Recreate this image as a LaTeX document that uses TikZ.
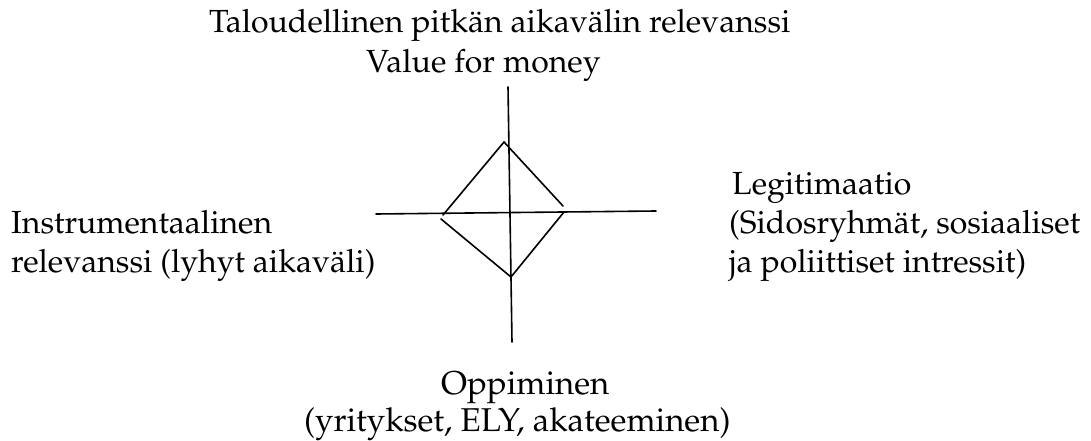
\documentclass[tikz,border=0pt]{standalone}
\usepackage[T1]{fontenc}
\usepackage{mathpazo}
\begin{document}
\begin{tikzpicture}[x=1pt,y=-1pt,
  axis/.style={line width=1.6pt, line cap=round},
  lbl/.style={inner sep=0pt, anchor=base west, font=\fontsize{32}{39}\selectfont},
  lblb/.style={lbl, font=\fontsize{33}{39}\selectfont}]
\useasboundingbox (0,0) rectangle (1091,441);
% axes
\coordinate (vt) at (508,87);
\coordinate (vb) at (512,342);
\coordinate (hl) at (376,214);
\coordinate (hr) at (656,211);
\draw[axis] (vt) -- (vb);
\draw[axis] (hl) -- (hr);
% diamond
\coordinate (dt) at (504,142);
\coordinate (dl1) at (443,215);
\coordinate (dr1) at (563,206);
\coordinate (dl2) at (441,219);
\coordinate (dr2) at (564,212);
\coordinate (db) at (511,277);
\draw[axis, line join=miter] (dl1) -- (dt) -- (dr1);
\draw[axis, line join=miter] (dl2) -- (db) -- (dr2);
% labels
\node[lbl] (t1) at (209,33) {Taloudellinen pitk\"an aikav\"alin relevanssi};
\node[lbl] (t2) at (366,73) {Value for money};
\node[lbl] (l1) at (11,233) {Instrumentaalinen};
\node[lbl] (l2) at (11,272) {relevanssi (lyhyt aikav\"ali)};
\node[lbl] (r1) at (732,194) {Legitimaatio};
\node[lbl] (r2) at (729,233) {(Sidosryhm\"at, sosiaaliset};
\node[lbl] (r3) at (729,272) {ja poliittiset intressit)};
\node[lblb] (b1) at (441,394) {Oppiminen};
\node[lblb] (b2) at (304,431) {(yritykset, ELY, akateeminen)};
\end{tikzpicture}
\end{document}
